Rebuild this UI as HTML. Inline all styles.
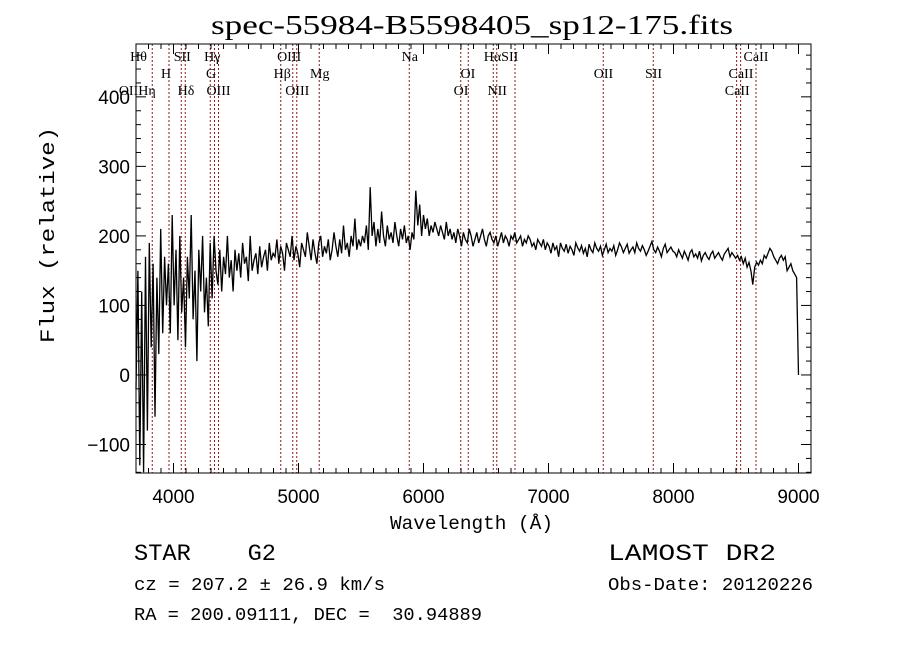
<!DOCTYPE html>
<html><head><meta charset="utf-8"><style>
body{margin:0;background:#fff;width:900px;height:649px;overflow:hidden}
svg{display:block}
.t{font-family:"Liberation Sans",sans-serif;font-size:19px}
.m{font-family:"Liberation Mono",monospace}
.s{font-family:"Liberation Serif",serif;font-size:14px}
</style></head><body>
<svg id="c" width="900" height="649">
<text x="211" y="34" textLength="522" lengthAdjust="spacingAndGlyphs" font-family="Liberation Serif,serif" font-size="27">spec-55984-B5598405_sp12-175.fits</text>
<g id="lines"></g>
<g id="axes"></g>
<path id="spec" fill="none" stroke="#000" stroke-width="1.3"/>
<text x="390" y="529" textLength="163" lengthAdjust="spacingAndGlyphs" class="m" font-size="19">Wavelength (Å)</text>
<text transform="translate(54,235) rotate(-90)" text-anchor="middle" textLength="216" lengthAdjust="spacingAndGlyphs" class="m" font-size="20">Flux (relative)</text>
<text x="134" y="560" textLength="142" lengthAdjust="spacingAndGlyphs" class="m" font-size="23" xml:space="preserve">STAR    G2</text>
<text x="608" y="560" textLength="168" lengthAdjust="spacingAndGlyphs" class="m" font-size="23">LAMOST DR2</text>
<text x="134" y="590" textLength="251" lengthAdjust="spacingAndGlyphs" class="m" font-size="18">cz = 207.2 ± 26.9 km/s</text>
<text x="608" y="590" textLength="205" lengthAdjust="spacingAndGlyphs" class="m" font-size="18">Obs-Date: 20120226</text>
<text x="134" y="620" textLength="348" lengthAdjust="spacingAndGlyphs" class="m" font-size="18" xml:space="preserve">RA = 200.09111, DEC =  30.94889</text>
</svg>
<script>
const fluxStart = 3700, fluxEnd = 9000;
const flux = [-20,150,-130,120,-140,170,-80,190,40,160,-60,140,30,210,60,170,100,
160,60,230,100,180,50,200,90,140,40,170,110,230,80,150,20,180,120,200,90,140,70,190,
110,200,150,130,180,120,170,145,200,140,165,120,180,150,175,140,190,160,170,135,200,150,165,175,145,185,155,170,180,150,190,165,175,
170,195,160,185,175,150,190,180,170,200,165,185,175,155,190,180,170,205,185,165,195,175,160,190,200,170,185,175,195,165,180,205,185,170,195,175,215,180,190,170,200,185,225,180,195,185,
200,190,215,180,270,200,220,185,210,190,235,200,185,215,195,205,190,220,200,185,210,195,215,190,200,180,205,195,265,
215,245,200,230,210,225,200,215,205,220,210,200,215,205,195,220,200,210,195,205,190,210,200,
185,205,195,190,210,200,185,195,205,190,200,210,195,185,200,205,195,190,200,185,195,205,190,200,195,185,200,195,205,190,195,200,185,195,190,200,195,185,190,180,195,190,185,195,180,190,
185,175,190,180,185,170,190,182,178,188,175,185,180,172,190,183,178,186,175,182,170,188,180,176,190,182,178,185,172,180,188,176,182,178,186,172,180,190,184,176,182,188,175,180,184,176,190,182,178,186,180,172,178,185,192,180,176,184,178,170,182,188,176,180,184,178,
176,170,180,174,168,178,172,165,176,180,170,174,168,178,164,172,176,170,166,174,178,168,172,176,170,165,174,178,182,170,176,172,168,
172,165,170,160,168,155,162,150,130,155,162,158,165,160,172,168,175,182,178,170,165,160,168,172,165,170,150,155,160,150,145,140,0];
const lineWaves = [3830,3964,4062,4094,4294,4328,4360,4858,4954,4986,5166,5886,6298,6358,6558,6586,6732,7438,7838,8505,8537,8660];
const labelText = ["Hθ","SII","Hγ","OIII","Na","HαSII","CaII","H","G","Hβ","Mg","OI","OII","SII","CaII","OIIHη","Hδ","OIII","OIII","OI","NII","CaII"];
const labelWave = [3720,4070,4310,4925,5890,6620,8660,3940,4300,4870,5170,6355,7440,7840,8540,3710,4100,4360,4990,6300,6590,8510];
const labelRow = [0,0,0,0,0,0,0,1,1,1,1,1,1,1,1,2,2,2,2,2,2,2];
const xTicks = [4000,5000,6000,7000,8000,9000];
const yTicks = [-100,0,100,200,300,400];
const X0=136,X1=811,Y0=44,Y1=473,xmin=3700,xmax=9100,ymin=-141,ymax=476;
const sx=w=>X0+(w-xmin)/(xmax-xmin)*(X1-X0);
const sy=f=>Y1-(f-ymin)/(ymax-ymin)*(Y1-Y0);
const NS='http://www.w3.org/2000/svg';
function mk(t,a,p){const e=document.createElementNS(NS,t);for(const k in a)e.setAttribute(k,a[k]);p.appendChild(e);return e;}
const L=document.getElementById('lines');
lineWaves.forEach(w=>{const e=mk('line',{x1:sx(w),x2:sx(w),y1:Y0,y2:Y1,stroke:'#8b1a1a','stroke-width':1,'stroke-dasharray':'2,2'},L);

});
labelText.forEach((t,i)=>{const e=mk('text',{x:sx(labelWave[i]),y:61+labelRow[i]*17,'text-anchor':'middle',class:'s'},L);e.textContent=t;

});
const A=document.getElementById('axes');
mk('rect',{x:X0,y:Y0,width:X1-X0,height:Y1-Y0,fill:'none',stroke:'#000','stroke-width':1},A);
for(let w=3700;w<=9100;w+=100){const x=sx(w),maj=w%1000==0,l=maj?10:5;
mk('line',{x1:x,x2:x,y1:Y1,y2:Y1-l,stroke:'#000'},A);mk('line',{x1:x,x2:x,y1:Y0,y2:Y0+l,stroke:'#000'},A);}
for(let f=-140;f<=460;f+=20){const y=sy(f),maj=f%100==0,l=maj?10:5;
mk('line',{x1:X0,x2:X0+l,y1:y,y2:y,stroke:'#000'},A);mk('line',{x1:X1,x2:X1-l,y1:y,y2:y,stroke:'#000'},A);}
xTicks.forEach(v=>{const e=mk('text',{x:sx(v),y:Y1+30,'text-anchor':'middle',class:'t'},A);e.textContent=v;

});
yTicks.forEach(v=>{const e=mk('text',{x:X0-6,y:sy(v)+7,'text-anchor':'end',class:'t'},A);e.textContent=(v<0?'\u2212'+(-v):v);

});
const step=(fluxEnd-fluxStart)/(flux.length-1);
let d='';flux.forEach((f,i)=>{const w=fluxStart+i*step;d+=(i?'L':'M')+sx(w).toFixed(1)+','+sy(f).toFixed(1);});
document.getElementById('spec').setAttribute('d',d);
</script>
</body></html>
